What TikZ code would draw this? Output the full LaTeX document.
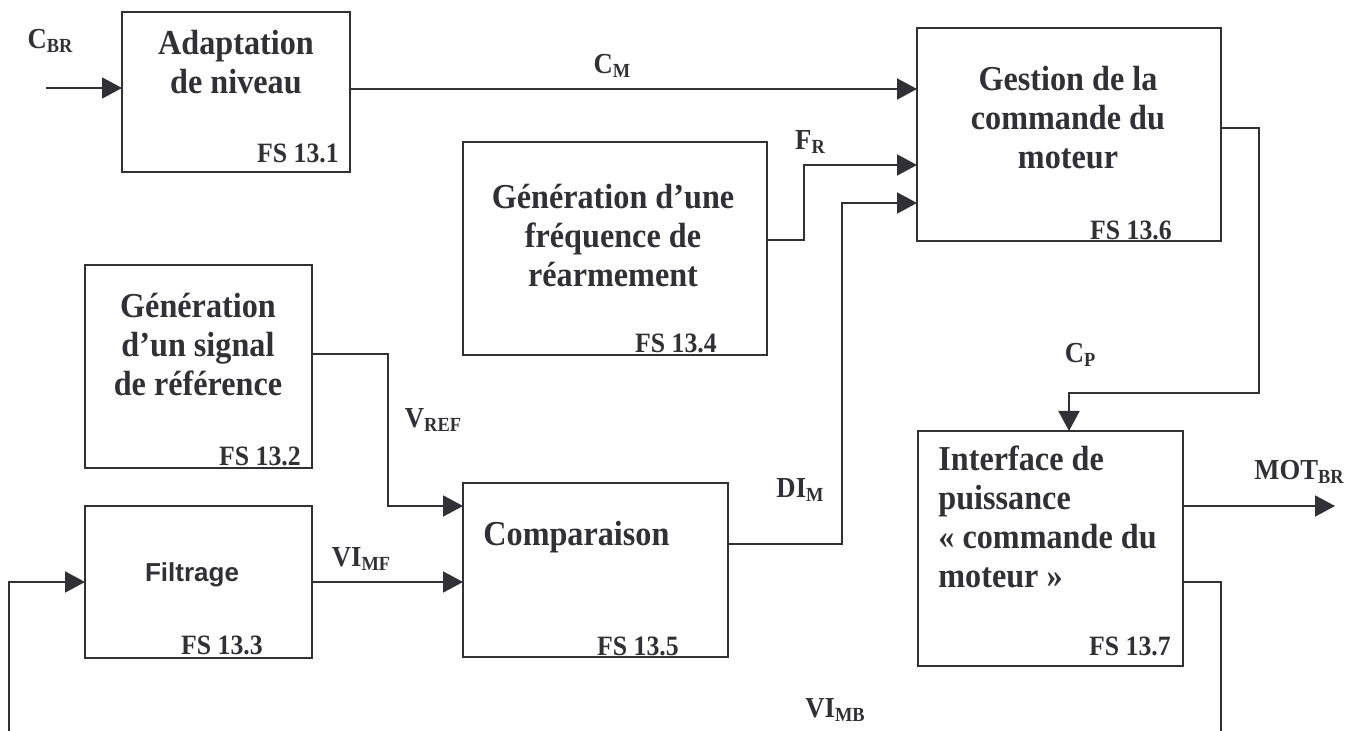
\documentclass[tikz,border=0pt]{standalone}
\usepackage{fontspec}
\setmainfont{Liberation Serif}[FakeStretch=0.92]
\newfontfamily\arialf{Liberation Sans}
\usetikzlibrary{arrows.meta,calc}
\definecolor{ink}{RGB}{48,48,54}
\newcommand{\sbs}[1]{\raisebox{-0.3ex}{\fontsize{10}{10}\selectfont #1}}
\begin{document}
\begin{tikzpicture}[x=0.5pt,y=-0.5pt,
  blk/.style={draw=ink,line width=1pt,rectangle,inner sep=0pt,outer sep=0pt,fill=none},
  ttl/.style={text=ink,font=\fontsize{17.5}{19.5}\selectfont\bfseries,align=center,inner sep=0pt},
  fs/.style={text=ink,font=\fontsize{14}{14}\selectfont\bfseries,inner sep=0pt},
  lbl/.style={text=ink,font=\fontsize{14.5}{14.5}\selectfont\bfseries,inner sep=0pt},
  wire/.style={draw=ink,line width=1pt},
  arr/.style={wire,-{Triangle[length=10pt,width=10.5pt]}}]
\useasboundingbox (0,0) rectangle (1357,731);
% boxes
\node[blk,minimum width=114pt,minimum height=80pt] (b1) at (236,92) {};
\node[blk,minimum width=113.5pt,minimum height=101.5pt] (b2) at (198.5,366.5) {};
\node[blk,minimum width=113.5pt,minimum height=76pt] (b3) at (198.5,582) {};
\node[blk,minimum width=152pt,minimum height=106.5pt] (b4) at (615,248.5) {};
\node[blk,minimum width=132.5pt,minimum height=87pt] (b5) at (595.5,570) {};
\node[blk,minimum width=152pt,minimum height=106.5pt] (b6) at (1069,134.5) {};
\node[blk,minimum width=132.5pt,minimum height=117.5pt] (b7) at (1050.5,548.5) {};
% titles
\node[ttl] (t1) at (236,62) {Adaptation\\de niveau};
\node[ttl] (t2) at (198,345) {Génération\\d’un signal\\de référence};
\node[text=ink,font=\arialf\fontsize{13}{13}\selectfont\bfseries,inner sep=0pt] (t3) at (192,575) {Filtrage};
\node[ttl] (t4) at (613,236) {Génération d’une\\fréquence de\\réarmement};
\node[ttl,anchor=base west] (t5) at (483,546) {Comparaison};
\node[ttl] (t6) at (1068,118) {Gestion de la\\commande du\\moteur};
\node[ttl,align=left,anchor=west] (t7) at (938,517) {Interface de\\puissance\\« commande du\\moteur »};
% FS labels
\node[fs] (f1) at (298,153) {FS 13.1};
\node[fs] (f2) at (260,456) {FS 13.2};
\node[fs] (f3) at (222,645) {FS 13.3};
\node[fs] (f4) at (676,343) {FS 13.4};
\node[fs] (f5) at (638,646) {FS 13.5};
\node[fs] (f6) at (1131,230) {FS 13.6};
\node[fs] (f7) at (1130,646) {FS 13.7};
% signal labels
\node[lbl] (lcbr) at (50,41) {C\sbs{BR}};
\node[lbl] (lcm) at (612,66) {C\sbs{M}};
\node[lbl] (lfr) at (810,142) {F\sbs{R}};
\node[lbl] (lvref) at (433,420) {V\sbs{REF}};
\node[lbl] (lvimf) at (361,559) {VI\sbs{MF}};
\node[lbl] (ldim) at (800,490) {DI\sbs{M}};
\node[lbl] (lcp) at (1080,355) {C\sbs{P}};
\node[lbl] (lmot) at (1299,472) {MOT\sbs{BR}};
\node[lbl] (lvimb) at (835,710) {VI\sbs{MB}};
% coordinates
\coordinate (cbrin) at (46,88);
\coordinate (cm) at (0,89);
\coordinate (fr1) at (804,240);
\coordinate (fr2) at (804,165);
\coordinate (di1) at (842,544);
\coordinate (di2) at (842,203);
\coordinate (vr1) at (388,354);
\coordinate (vr2) at (388,506);
\coordinate (vmf) at (0,582);
\coordinate (fin1) at (9,731);
\coordinate (fin2) at (9,582);
\coordinate (cp1) at (1259,128);
\coordinate (cp2) at (1259,393);
\coordinate (cp3) at (1069,393);
\coordinate (mot1) at (1335,506);
\coordinate (vmb1) at (1221,582);
\coordinate (vmb2) at (1221,731);
% connectors
\draw[arr] (cbrin) -- (b1.west |- cbrin);
\draw[arr] (b1.east |- cm) -- (b6.west |- cm);
\draw[arr] (b4.east |- fr1) -- (fr1) -- (fr2) -- (b6.west |- fr2);
\draw[arr] (b5.east |- di1) -- (di1) -- (di2) -- (b6.west |- di2);
\draw[arr] (b2.east |- vr1) -- (vr1) -- (vr2) -- (b5.west |- vr2);
\draw[arr] (b3.east |- vmf) -- (b5.west |- vmf);
\draw[arr] (fin1) -- (fin2) -- (b3.west |- fin2);
\draw[arr] (b6.east |- cp1) -- (cp1) -- (cp2) -- (cp3) -- (cp3 |- b7.north);
\draw[arr] (b7.east |- mot1) -- (mot1);
\draw[wire] (b7.east |- vmb1) -- (vmb1) -- (vmb2);
\end{tikzpicture}
\end{document}
